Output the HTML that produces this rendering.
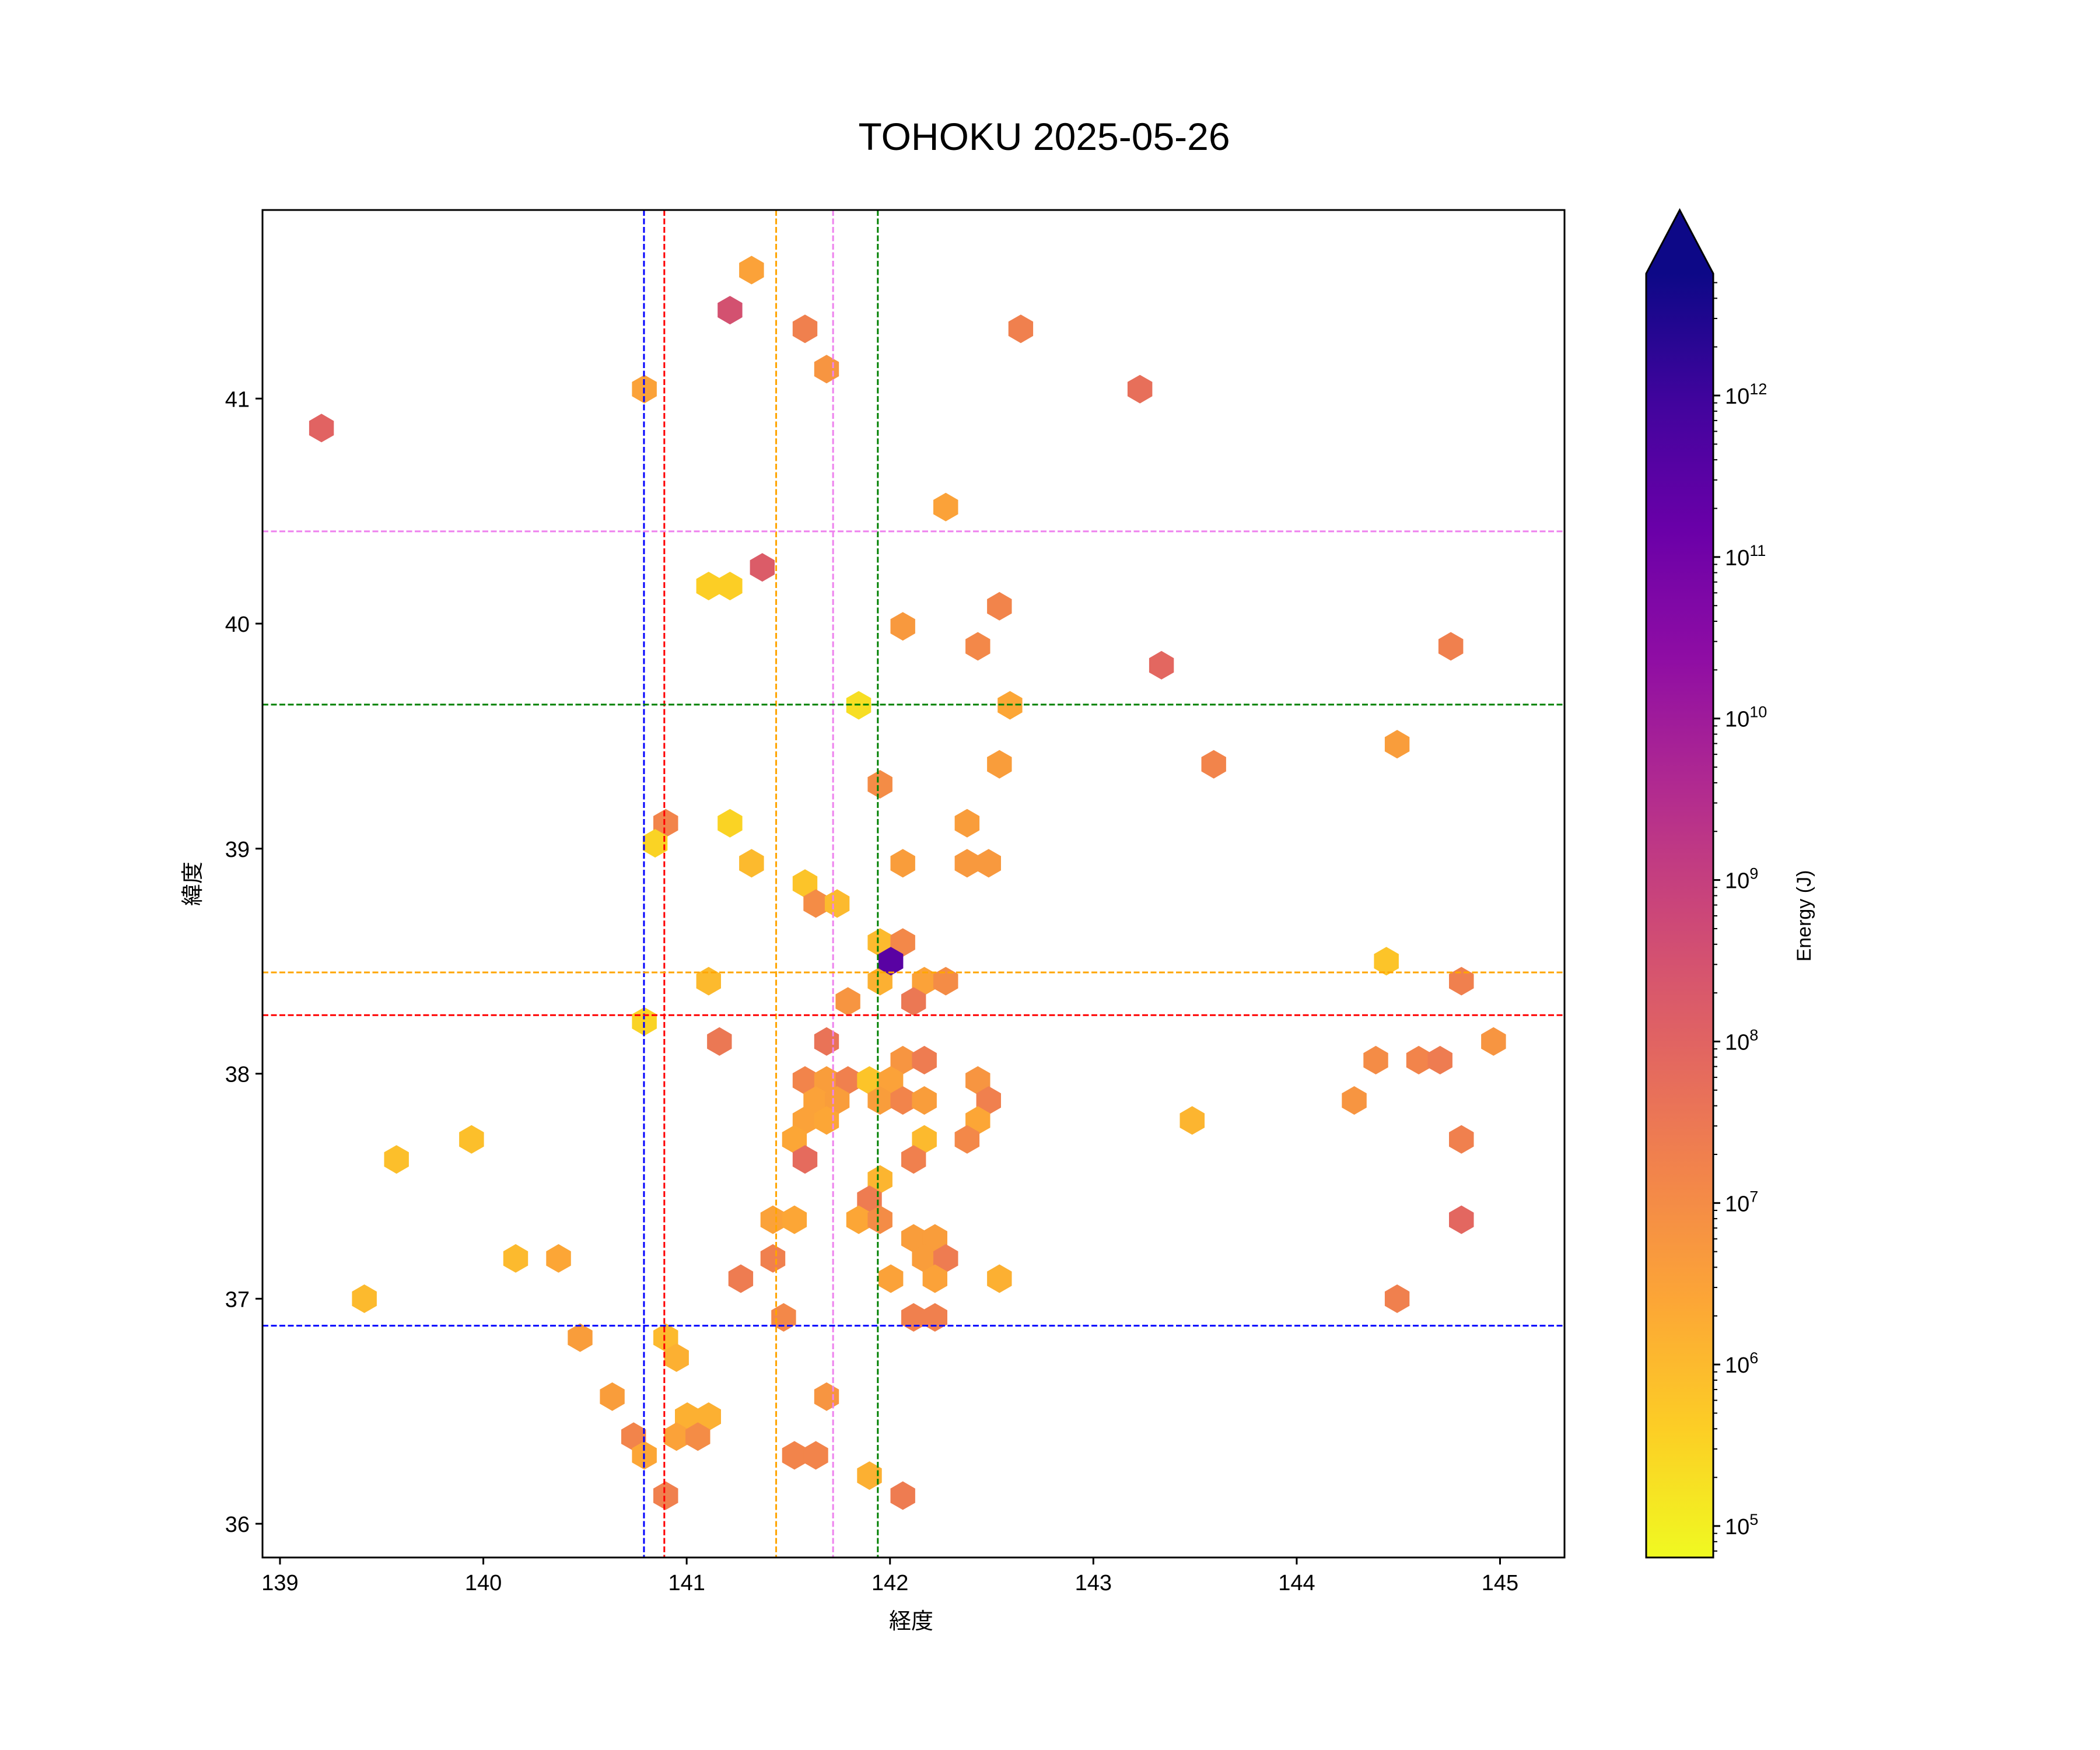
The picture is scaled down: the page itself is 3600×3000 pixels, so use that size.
<!DOCTYPE html>
<html><head><meta charset="utf-8"><style>
html,body{margin:0;padding:0;background:#fff;}
svg{display:block;font-family:"Liberation Sans","Noto Sans CJK JP",sans-serif;}
</style></head><body>
<svg id="chart" width="3600" height="3000" viewBox="0 0 3600 3000" xmlns="http://www.w3.org/2000/svg">
<rect width="3600" height="3000" fill="#fff"/>
<text x="1790" y="257" font-size="66" text-anchor="middle">TOHOKU 2025-05-26</text>
<defs>
<clipPath id="axclip"><rect x="450" y="360" width="2232" height="2310"/></clipPath>
<linearGradient id="cbgrad" x1="0" y1="1" x2="0" y2="0"></linearGradient>
</defs>
<g id="hexes" clip-path="url(#axclip)"></g>
<g id="refs" clip-path="url(#axclip)"></g>
<rect x="450" y="360" width="2232" height="2310" fill="none" stroke="#000" stroke-width="3"/>
<g id="xticks"></g>
<g id="yticks"></g>
<text x="1562" y="2792" font-size="38" text-anchor="middle">経度</text>
<text x="0" y="0" font-size="38" text-anchor="middle" transform="translate(343,1515) rotate(-90)">緯度</text>
<g id="cbar"></g>
<text x="0" y="0" font-size="34" text-anchor="middle" transform="translate(3104,1570) rotate(-90)">Energy (J)</text>
</svg>
<script>
const lons = [139.204,140.792,141.319,141.213,141.582,141.688,142.643,143.229,142.274,141.372,141.108,141.213,142.063,142.538,142.432,143.335,144.758,141.846,142.590,144.494,143.592,142.538,141.951,140.897,140.845,141.213,142.379,141.319,142.063,142.379,142.485,141.582,141.635,141.740,141.951,142.063,144.441,141.108,141.951,142.169,142.274,144.810,141.793,142.116,140.792,141.161,141.688,144.968,142.063,142.169,144.389,144.600,144.705,141.582,141.688,141.793,141.899,142.004,142.432,141.635,141.740,141.951,142.063,142.169,142.485,144.283,141.582,141.688,142.432,143.486,141.530,142.169,142.379,139.942,144.810,139.573,141.582,142.116,141.951,141.899,141.424,141.530,141.846,141.951,144.810,142.116,142.221,140.159,140.370,141.424,142.169,142.274,141.266,142.004,142.221,142.538,139.415,144.494,141.477,142.116,142.221,140.476,140.897,140.950,140.634,141.688,141.003,141.108,140.739,140.950,141.055,140.792,141.530,141.635,141.899,140.897,142.063,142.004];
const lats = [40.869,41.042,41.571,41.393,41.310,41.131,41.310,41.042,40.518,40.250,40.167,40.167,39.988,40.077,39.899,39.815,39.899,39.637,39.637,39.464,39.375,39.375,39.286,39.113,39.024,39.113,39.113,38.935,38.935,38.935,38.935,38.845,38.756,38.756,38.583,38.583,38.500,38.411,38.411,38.411,38.411,38.411,38.321,38.321,38.232,38.143,38.143,38.143,38.060,38.060,38.060,38.060,38.060,37.970,37.970,37.970,37.970,37.970,37.970,37.881,37.881,37.881,37.881,37.881,37.881,37.881,37.792,37.792,37.792,37.792,37.708,37.708,37.708,37.708,37.708,37.619,37.619,37.619,37.530,37.440,37.351,37.351,37.351,37.351,37.351,37.268,37.268,37.179,37.179,37.179,37.179,37.179,37.089,37.089,37.089,37.089,37.000,37.000,36.917,36.917,36.917,36.827,36.827,36.738,36.565,36.565,36.476,36.476,36.387,36.387,36.387,36.304,36.304,36.304,36.214,36.125,36.125,38.500];
const logEnergy = [8.0,6.5,6.5,8.5,7.3,6.8,7.3,7.7,6.5,8.2,5.6,5.6,6.7,7.2,7.1,7.9,7.3,5.3,6.4,6.6,7.2,6.6,7.0,7.2,5.5,5.5,6.6,6.0,6.6,6.7,6.7,5.8,7.0,6.0,6.0,7.1,5.8,6.0,6.2,6.5,7.0,7.3,6.8,7.5,5.5,7.5,7.6,6.8,6.8,7.4,7.0,7.2,7.4,7.2,6.6,7.3,5.8,6.5,6.8,6.5,6.6,6.6,7.2,6.6,7.3,6.8,6.5,6.4,6.4,6.1,6.4,6.0,7.1,5.9,7.3,5.9,7.8,7.3,6.1,7.4,6.5,6.4,6.4,7.0,7.9,6.6,6.6,6.0,6.4,7.3,6.6,7.4,7.4,6.5,6.5,6.2,6.0,7.3,7.1,7.3,7.3,6.6,6.0,6.2,6.6,6.8,6.2,6.2,7.2,6.5,7.0,6.4,7.2,7.2,6.2,7.3,7.4,11.5];
const vLineLons = [140.79,140.89,141.44,141.72,141.94];
const hLineLats = [40.41,39.64,38.45,38.26,36.88];
const vLineColors = ["#0000ff","#ff0000","#ffa500","#ee82ee","#008000"];
const hLineColors = ["#ee82ee","#008000","#ffa500","#ff0000","#0000ff"];
const xTicks = [139,140,141,142,143,144,145];
const yTicks = [36,37,38,39,40,41];
const cbDecades = [5,6,7,8,9,10,11,12];

const NS="http://www.w3.org/2000/svg";
const AX={l:450,r:2682,t:360,b:2670};
const XMIN=138.914,XMAX=145.317,YMIN=35.850,YMAX=41.838;
const sx=v=>AX.l+(v-XMIN)/(XMAX-XMIN)*(AX.r-AX.l);
const sy=v=>AX.b-(v-YMIN)/(YMAX-YMIN)*(AX.b-AX.t);
const CB={l:2822,r:2937,t:469,b:2670,tip:360};
const EMIN=4.805,EMAX=12.755;
const se=v=>CB.b-(v-EMIN)/(EMAX-EMIN)*(CB.b-CB.t);
const plasma=["#0d0887","#41049d","#6a00a8","#8f0da4","#b12a90","#cc4778","#e16462","#f2844b","#fca636","#fcce25","#f0f921"];
function hx(h){return [parseInt(h.slice(1,3),16),parseInt(h.slice(3,5),16),parseInt(h.slice(5,7),16)];}
function cmap(t){t=Math.max(0,Math.min(1,t));const p=t*10,i=Math.min(9,Math.floor(p)),f=p-i;const a=hx(plasma[i]),b=hx(plasma[i+1]);return "rgb("+a.map((v,k)=>Math.round(v+(b[k]-v)*f)).join(",")+")";}
const colorOf=e=>cmap(1-(e-EMIN)/(EMAX-EMIN));
function mk(tag,attrs,parent){const el=document.createElementNS(NS,tag);for(const k in attrs)el.setAttribute(k,attrs[k]);parent.appendChild(el);return el;}

const gH=document.getElementById('hexes');
const R=24.5;
for(let i=0;i<lons.length;i++){
  const cx=sx(lons[i]),cy=sy(lats[i]);
  let pts=[];
  for(let k=0;k<6;k++){const a=Math.PI/180*(60*k-90);pts.push((cx+R*Math.cos(a)).toFixed(1)+","+(cy+R*Math.sin(a)).toFixed(1));}
  const p=mk('polygon',{points:pts.join(" "),fill:colorOf(logEnergy[i])},gH);
  
  
}
const gR=document.getElementById('refs');
vLineLons.forEach((v,i)=>{
  const l=mk('line',{x1:sx(v),x2:sx(v),y1:AX.t,y2:AX.b,stroke:vLineColors[i],'stroke-width':3,'stroke-dasharray':'10,4.5'},gR);
  
  
});
hLineLats.forEach((v,i)=>{
  const l=mk('line',{x1:AX.l,x2:AX.r,y1:sy(v),y2:sy(v),stroke:hLineColors[i],'stroke-width':3,'stroke-dasharray':'10,4.5'},gR);
  
  
});
const gX=document.getElementById('xticks');
xTicks.forEach(v=>{
  mk('line',{x1:sx(v),x2:sx(v),y1:AX.b,y2:AX.b+12,stroke:'#000','stroke-width':3},gX);
  const t=mk('text',{x:sx(v),y:AX.b+56,'font-size':38,'text-anchor':'middle'},gX);
  t.textContent=v;
  
  
});
const gY=document.getElementById('yticks');
yTicks.forEach(v=>{
  mk('line',{x1:AX.l-12,x2:AX.l,y1:sy(v),y2:sy(v),stroke:'#000','stroke-width':3},gY);
  const t=mk('text',{x:AX.l-22,y:sy(v)+14,'font-size':38,'text-anchor':'end'},gY);
  t.textContent=v;
  
  
});
const grad=document.getElementById('cbgrad');
for(let i=0;i<=20;i++){mk('stop',{offset:(i/20),'stop-color':cmap(1-i/20)},grad);}
const gC=document.getElementById('cbar');
mk('rect',{x:CB.l,y:CB.t,width:CB.r-CB.l,height:CB.b-CB.t,fill:'url(#cbgrad)'},gC);
mk('polygon',{points:CB.l+","+CB.t+" "+(CB.l+CB.r)/2+","+CB.tip+" "+CB.r+","+CB.t,fill:plasma[0]},gC);
mk('polygon',{points:CB.l+","+CB.b+" "+CB.l+","+CB.t+" "+(CB.l+CB.r)/2+","+CB.tip+" "+CB.r+","+CB.t+" "+CB.r+","+CB.b,fill:'none',stroke:'#000','stroke-width':3},gC);
cbDecades.forEach(d=>{
  mk('line',{x1:CB.r,x2:CB.r+12,y1:se(d),y2:se(d),stroke:'#000','stroke-width':3},gC);
  const t=mk('text',{x:CB.r+20,y:se(d)+14,'font-size':38},gC);
  
  
  t.appendChild(document.createTextNode('10'));
  const s=mk('tspan',{dy:-16,'font-size':27},t);s.textContent=d;
  for(let m=2;m<=9;m++){const v=d-1+Math.log10(m);if(v>EMIN&&v<EMAX){mk('line',{x1:CB.r,x2:CB.r+7,y1:se(v),y2:se(v),stroke:'#000','stroke-width':2},gC);}}
});
for(let m=2;m<=9;m++){const v=12+Math.log10(m);if(v<EMAX)mk('line',{x1:CB.r,x2:CB.r+7,y1:se(v),y2:se(v),stroke:'#000','stroke-width':2},gC);}
</script>
</body></html>
